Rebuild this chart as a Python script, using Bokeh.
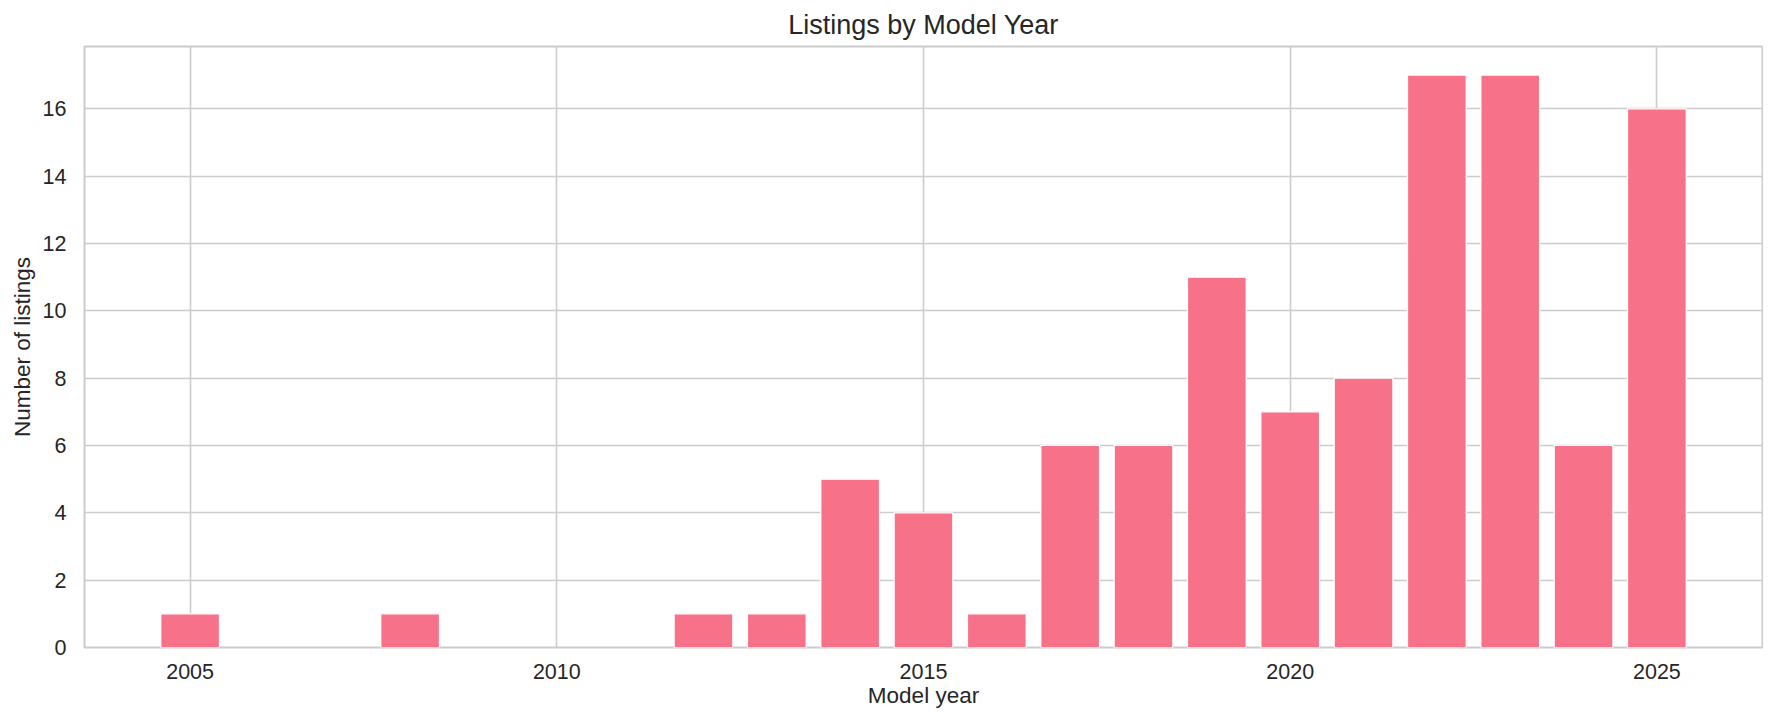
from bokeh.plotting import figure
from bokeh.models import Range1d, SingleIntervalTicker, ColumnDataSource
from bokeh.embed import file_html
from bokeh.resources import INLINE

# Data
years = [2005, 2008, 2012, 2013, 2014, 2015, 2016, 2017, 2018, 2019, 2020, 2021, 2022, 2023, 2024, 2025]
counts = [1, 1, 1, 1, 5, 4, 1, 6, 6, 11, 7, 8, 17, 17, 6, 16]
title_text = "Listings by Model Year"
x_label = "Model year"
y_label = "Number of listings"

BAR_COLOR = "#F77189"
GRID = "#cccccc"
TEXT = "#262626"
FONT = "Liberation Sans"

src = ColumnDataSource(dict(year=years, count=counts))

p = figure(
    width=1763, height=710,
    x_range=Range1d(2003.56, 2026.44),
    y_range=Range1d(0, 17.85),
    output_backend="svg",
    toolbar_location=None,
    min_border_left=84, min_border_right=1, min_border_top=46, min_border_bottom=61,
    background_fill_color="white", border_fill_color="white",
)

p.vbar(x="year", top="count", width=0.8, bottom=0, source=src,
       fill_color=BAR_COLOR, line_color="white", line_width=1.2)

p.title.text = title_text
p.title.align = "center"
p.title.text_font = FONT
p.title.text_font_size = "27px"
p.title.text_font_style = "normal"
p.title.text_color = TEXT
p.title.standoff = 14

p.outline_line_color = GRID
p.outline_line_width = 2

p.xaxis.ticker = SingleIntervalTicker(interval=5)
p.yaxis.ticker = SingleIntervalTicker(interval=2)

for ax in (p.xaxis, p.yaxis):
    ax.axis_line_color = None
    ax.major_tick_line_color = None
    ax.minor_tick_line_color = None
    ax.major_tick_out = 0
    ax.major_tick_in = 0
    ax.major_label_text_font = FONT
    ax.major_label_text_font_size = "21.5px"
    ax.major_label_text_color = TEXT
    ax.axis_label_text_font = FONT
    ax.axis_label_text_font_size = "22.5px"
    ax.axis_label_text_font_style = "normal"
    ax.axis_label_text_color = TEXT

p.xaxis.axis_label = x_label
p.yaxis.axis_label = y_label
p.xaxis.major_label_standoff = 12
p.xaxis.axis_label_standoff = 1
p.yaxis.major_label_standoff = 14
p.yaxis.axis_label_standoff = 5

p.xgrid.grid_line_color = GRID
p.ygrid.grid_line_color = GRID
p.xgrid.grid_line_width = 1.6
p.ygrid.grid_line_width = 1.6

open("out.html", "w").write(file_html(p, INLINE))
